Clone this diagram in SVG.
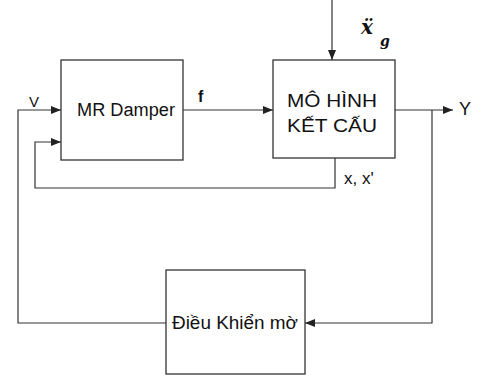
<svg xmlns="http://www.w3.org/2000/svg" width="483" height="379" viewBox="0 0 483 379">
<defs>
<marker id="ah" viewBox="0 0 10 8" refX="10" refY="4" markerWidth="10" markerHeight="8" markerUnits="userSpaceOnUse" orient="auto">
<path d="M0,0 L10,4 L0,8 z" fill="#222"/>
</marker>
<style>
.box{fill:none;stroke:#333;stroke-width:1.3}
.ln{fill:none;stroke:#333;stroke-width:1.2}
.t{font-family:"Liberation Sans",Arial,sans-serif;fill:#111}
.it{font-family:"DejaVu Serif","Liberation Serif",serif;font-style:italic;font-weight:bold;fill:#111}
</style>
</defs>
<rect width="483" height="379" fill="#fff"/>
<g id="connectors">
<line class="ln" x1="332" y1="0" x2="332" y2="60" marker-end="url(#ah)"/>
<polyline class="ln" points="166,323 18,323 18,110 61,110" marker-end="url(#ah)"/>
<polyline class="ln" points="335,158 335,188 35,188 35,142 61,142" marker-end="url(#ah)"/>
<line class="ln" x1="183" y1="110" x2="273" y2="110" marker-end="url(#ah)"/>
<line class="ln" x1="395" y1="110" x2="453" y2="110" marker-end="url(#ah)"/>
<polyline class="ln" points="432,110 432,323 305,323" marker-end="url(#ah)"/>
</g>
<g id="mr-damper">
<rect class="box" x="61" y="60" width="122" height="100"/>
<text class="t" x="77" y="116" font-size="18" textLength="98" lengthAdjust="spacingAndGlyphs">MR Damper</text>
</g>
<g id="mo-hinh">
<rect class="box" x="273" y="60" width="122" height="98"/>
<text class="t" x="287" y="107" font-size="18" textLength="90" lengthAdjust="spacingAndGlyphs">MÔ HÌNH</text>
<text class="t" x="287" y="132" font-size="18" textLength="90" lengthAdjust="spacingAndGlyphs">KẾT CẤU</text>
</g>
<g id="dieu-khien">
<rect class="box" x="166" y="270" width="139" height="104"/>
<text class="t" x="172" y="329" font-size="18" textLength="126" lengthAdjust="spacingAndGlyphs">Điều Khiển mờ</text>
</g>
<g id="labels">
<text class="t" x="29" y="107" font-size="15">V</text>
<text class="t" x="198" y="102" font-size="16" font-weight="bold">f</text>
<text class="t" x="459" y="115" font-size="18">Y</text>
<text class="t" x="344" y="184" font-size="17">x, x'</text>
<text class="it" x="361" y="34" font-size="20">ẍ</text>
<text class="it" x="380" y="46" font-size="14" font-weight="normal">g</text>
</g>
</svg>
